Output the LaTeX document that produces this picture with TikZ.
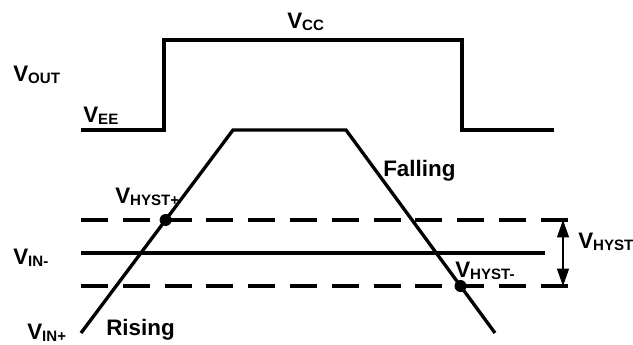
\documentclass[tikz,border=0pt]{standalone}
\usepackage{fontspec}
\setmainfont{Liberation Sans}
\usetikzlibrary{arrows.meta}
\newcommand{\subfont}{\fontsize{11.3}{12}\selectfont}
\newcommand{\vsub}[1]{V\raisebox{-1.6pt}{\subfont #1}}

\begin{document}
\begin{tikzpicture}[x=0.75pt,y=-0.75pt,
    lbl/.style={anchor=base west,inner sep=0pt,font=\fontsize{16.8}{18}\selectfont\bfseries},
    wave/.style={line width=2.5pt},
    hyst/.style={line width=2.5pt,dash pattern=on 20.25pt off 11.1pt},
    pin/.style={circle,fill,inner sep=0pt,minimum size=9pt}]
    \useasboundingbox (0,0) rectangle (633,344);

    \coordinate (outa) at (81,130);
    \coordinate (outb) at (164,130);
    \coordinate (outc) at (164,40);
    \coordinate (outd) at (462,40);
    \coordinate (oute) at (462,130);
    \coordinate (outf) at (554,130);

    \coordinate (ina) at (81,333);
    \coordinate (inb) at (233,130);
    \coordinate (inc) at (346,130);
    \coordinate (ind) at (495,333);

    \coordinate (upl) at (81,220);
    \coordinate (upr) at (568,220);
    \coordinate (midl) at (81,253);
    \coordinate (midr) at (545,253);
    \coordinate (lowl) at (81,286);
    \coordinate (lowr) at (568,286);
    \coordinate (htop) at (563,220);
    \coordinate (hbot) at (563,286);

    \node[lbl] (vout) at (13,81) {\vsub{OUT}};
    \node[lbl] (vee) at (83,122) {\vsub{EE}};
    \node[lbl] (vcc) at (287,28) {\vsub{CC}};
    \node[lbl] (falling) at (383,176) {Falling};
    \node[lbl] (vhystp) at (115,203) {\vsub{HYST+}};
    \node[lbl] (vinm) at (13,264) {\vsub{IN-}};
    \node[lbl] (vinp) at (27,339) {\vsub{IN+}};
    \node[lbl] (rising) at (106,335) {Rising};
    \node[lbl] (vhystm) at (455,277) {\vsub{HYST-}};
    \node[lbl] (vhyst) at (578,248) {\vsub{HYST}};

    \draw[wave] (outa) -- (outb) -- (outc) -- (outd) -- (oute) -- (outf);
    \draw[wave] (ina) -- (inb) -- (inc) -- (ind);
    \draw[hyst] (upl) -- (upr);
    \draw[wave] (midl) -- (midr);
    \draw[hyst] (lowl) -- (lowr);

    \node[pin] (crossup) at (165.6,220) {};
    \node[pin] (crossdown) at (460.5,286) {};

    \draw[{Triangle[length=13pt,width=9pt]}-{Triangle[length=13pt,width=9pt]},line width=0.8pt] (htop) -- (hbot);
\end{tikzpicture}
\end{document}
